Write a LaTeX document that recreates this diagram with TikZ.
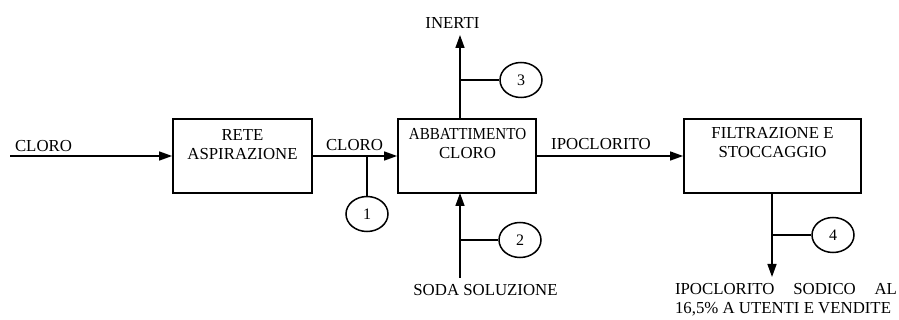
\documentclass[tikz,border=0pt]{standalone}
\usepackage{fontspec}
\setmainfont{Liberation Serif}
\usetikzlibrary{arrows.meta,shapes.geometric}
\begin{document}
\begin{tikzpicture}[x=1pt,y=-1pt,
 lbl/.style={inner sep=0pt, font=\fontsize{16.8}{19}\selectfont, align=center},
 blk/.style={draw, line width=1.8pt, minimum width=#1, minimum height=74pt, inner sep=0pt},
 tag/.style={draw, ellipse, line width=1.5pt, minimum width=42pt, minimum height=35pt, inner sep=0pt, font=\fontsize{16}{19}\selectfont},
 flow/.style={line width=1.5pt, -{Triangle[length=13pt,width=9pt]}},
 wire/.style={line width=1.5pt}]
\useasboundingbox (0,0) rectangle (899,320);

% blocks
\node[blk=139pt] (b1) at (242.5,156) {};
\node[blk=138pt] (b2) at (467,156) {};
\node[blk=177pt] (b3) at (772.5,156) {};

\node[lbl] (t1) at (242.5,144.5) {RETE\\ASPIRAZIONE};
\node[lbl] (t2) at (467.5,143.5) {\scalebox{0.9}[1]{ABBATTIMENTO}\\CLORO};
\node[lbl] (t3) at (772.5,143) {FILTRAZIONE E\\STOCCAGGIO};

% tags
\node[tag] (c1) at (367,214) {1};
\node[tag] (c2) at (520,240) {2};
\node[tag] (c3) at (521,80) {3};
\node[tag] (c4) at (833,235) {4};

% coordinates
\coordinate (in) at (10,156);
\coordinate (j1) at (367,156);
\coordinate (top) at (460,35);
\coordinate (b2top) at (460,119);
\coordinate (j3) at (460,80);
\coordinate (bot) at (460,278);
\coordinate (b2bot) at (460,193);
\coordinate (j2) at (460,240);
\coordinate (b3bot) at (772,193);
\coordinate (out) at (772,277);
\coordinate (j4) at (772,235);

% flows
\draw[flow] (in) -- (b1.west);
\draw[flow] (b1.east) -- (b2.west);
\draw[flow] (b2.east) -- (b3.west);
\draw[flow] (b2top) -- (top);
\draw[flow] (bot) -- (b2bot);
\draw[flow] (b3bot) -- (out);

% stubs
\draw[wire] (j1) -- (c1.north);
\draw[wire] (j3) -- (c3.west);
\draw[wire] (j2) -- (c2.west);
\draw[wire] (j4) -- (c4.west);

% labels
\node[lbl] (l1) at (43.5,146) {CLORO};
\node[lbl] (l2) at (354.5,145) {CLORO};
\node[lbl] (l3) at (601,144) {IPOCLORITO};
\node[lbl] (l4) at (452.5,23) {INERTI};
\node[lbl] (l5) at (485.5,290) {SODA SOLUZIONE};
\node[lbl, align=left] (l6) at (786,299.5) {\hbox to 222pt{IPOCLORITO\hfil SODICO\hfil AL}\\16,5\% A UTENTI E VENDITE};
\end{tikzpicture}
\end{document}
